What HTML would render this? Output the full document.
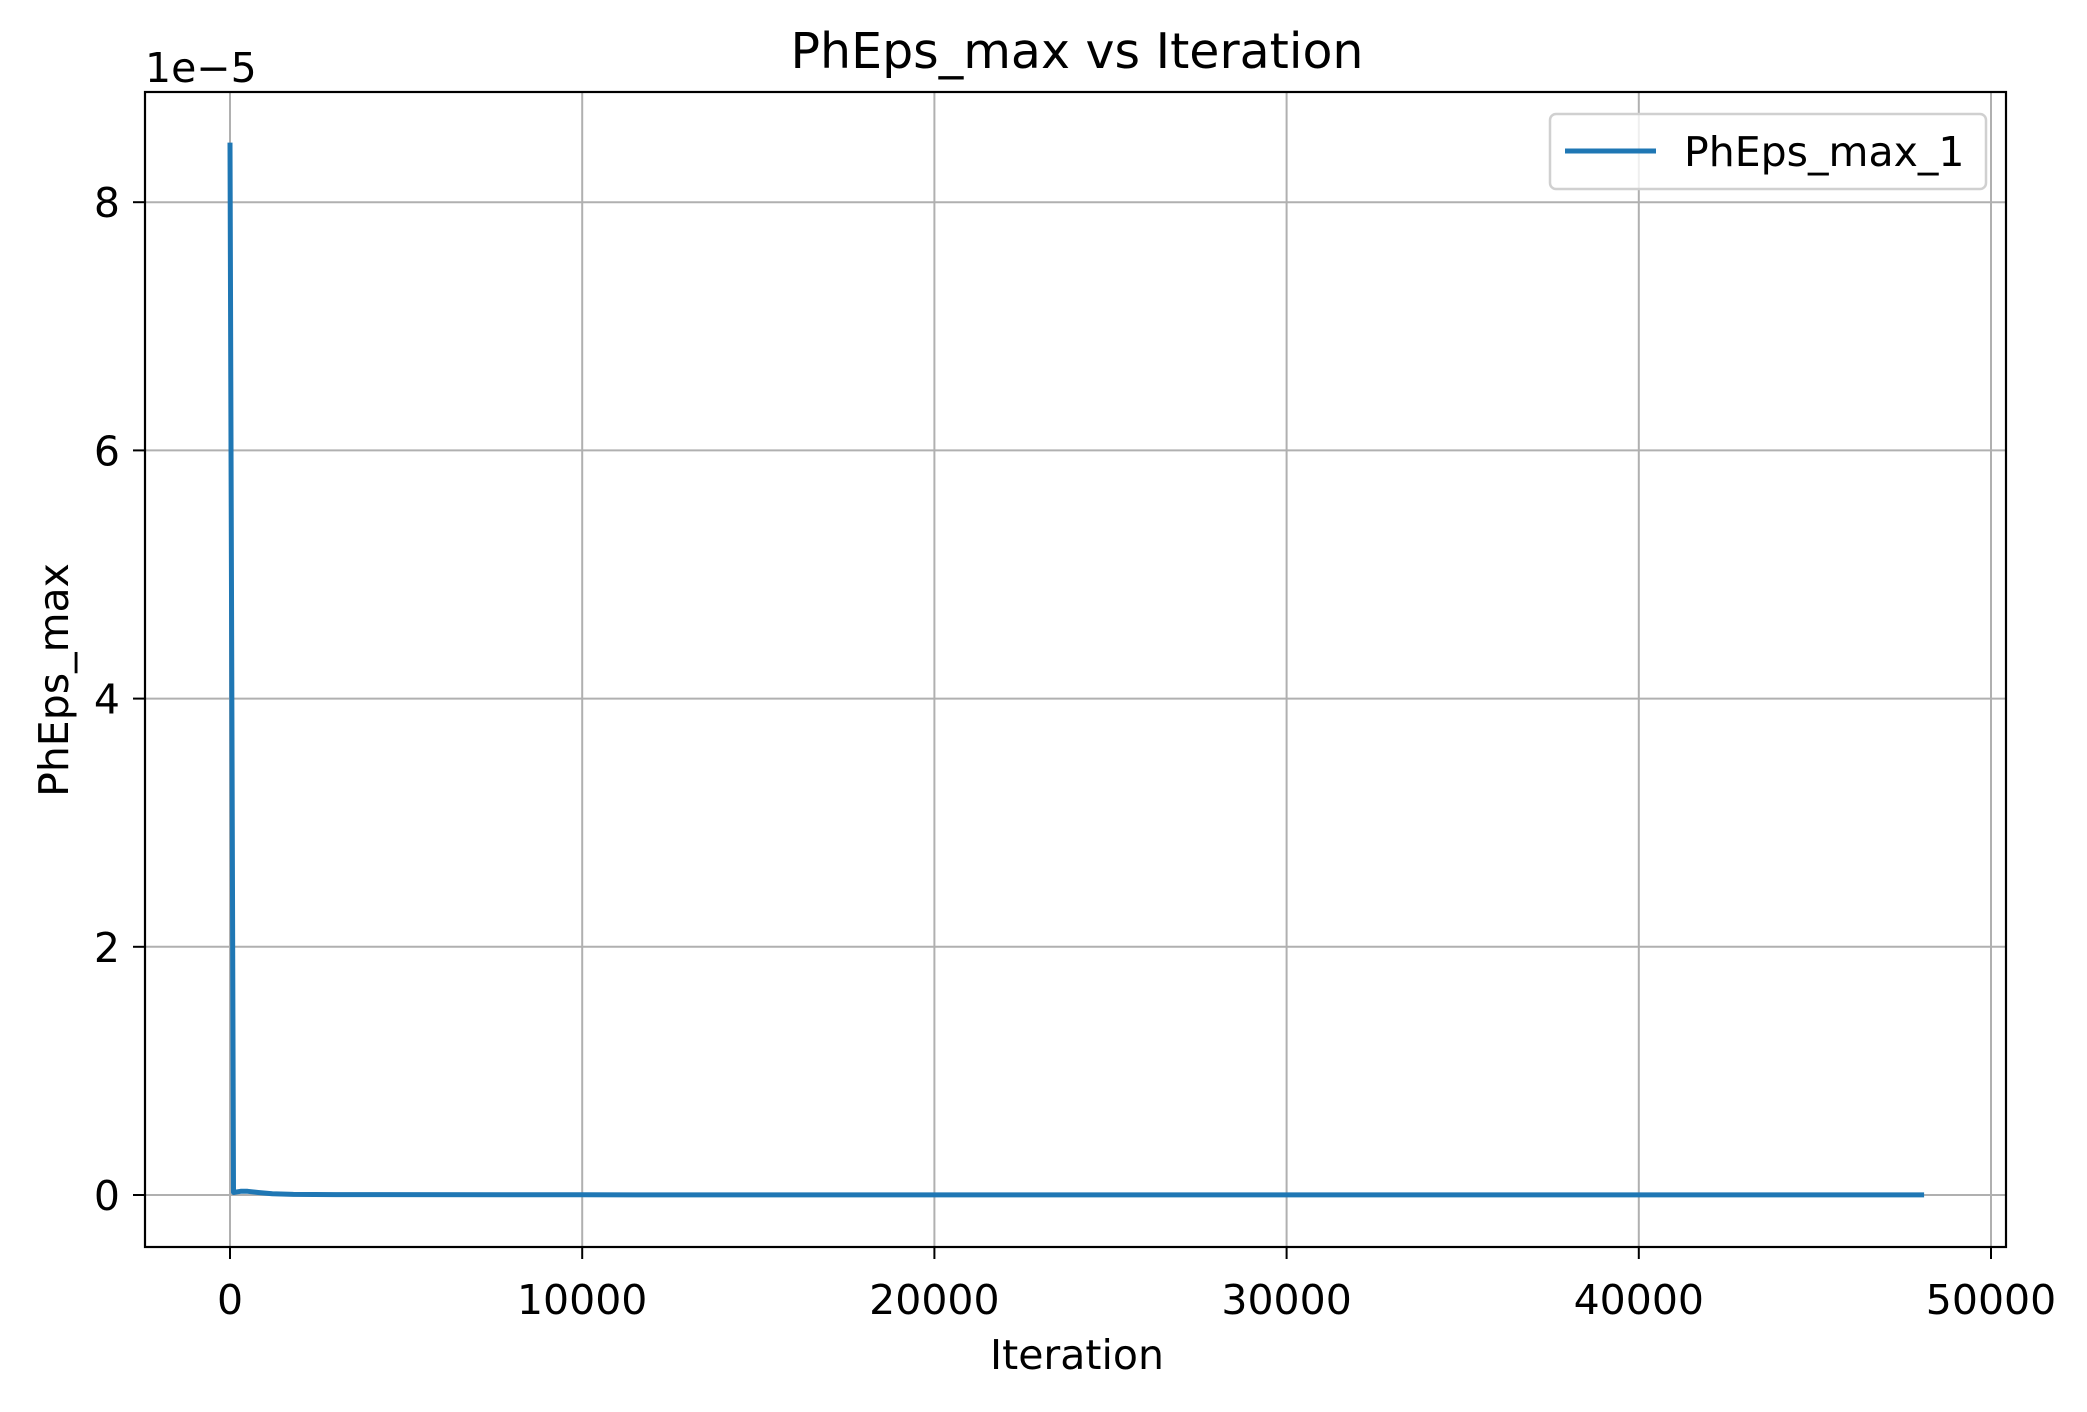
<!DOCTYPE html>
<html><head><meta charset="utf-8"><style>
body{margin:0;background:#fff;}
svg text{font-family:"DejaVu Sans","Liberation Sans",sans-serif;fill:#000;}
</style></head><body>
<svg id="chart" width="2087" height="1407" xmlns="http://www.w3.org/2000/svg">
<rect width="2087" height="1407" fill="#fff"/>
<g id="grid"></g>
<g id="ticks"></g>
<path id="series" fill="none" stroke="#1f77b4" stroke-width="5" stroke-linejoin="round"/>
<rect x="145" y="92" width="1861" height="1155" fill="none" stroke="#000" stroke-width="2.2"/>
<text x="1077" y="68" font-size="49" text-anchor="middle">PhEps_max vs Iteration</text>
<text x="1077" y="1369" font-size="41" text-anchor="middle">Iteration</text>
<text transform="translate(68,680) rotate(-90)" font-size="41" text-anchor="middle">PhEps_max</text>
<text x="145" y="82" font-size="41">1e−5</text>
<g>
<rect x="1550" y="114" width="436" height="75" rx="6" fill="#fff" fill-opacity="0.8" stroke="#d0d0d0" stroke-width="2.5"/>
<line x1="1565" y1="151" x2="1656" y2="151" stroke="#1f77b4" stroke-width="5"/>
<text x="1684" y="166" font-size="41">PhEps_max_1</text>
</g>
</svg>
<script>
const xTicks=[0,10000,20000,30000,40000,50000];
const yTicks=[0,2,4,6,8];
const iterations=[0,100,300,500,800,1200,1800,3000,10000,20000,30000,40000,48100];
const values=[8.48,0.02,0.03,0.03,0.02,0.01,0.005,0.003,0.002,0.001,0.001,0.001,0.001];
const X0=230,XS=352.2/10000,Y0=1195,YS=124.1;
function sx(v){return X0+v*XS;}
function sy(v){return Y0-v*YS;}
const ns="http://www.w3.org/2000/svg";
const grid=document.getElementById('grid'),ticks=document.getElementById('ticks');
function mk(tag,attrs,parent){const e=document.createElementNS(ns,tag);for(const k in attrs)e.setAttribute(k,attrs[k]);parent.appendChild(e);return e;}
xTicks.forEach(t=>{const x=sx(t);
const g=mk('line',{x1:x,x2:x,y1:92,y2:1247,stroke:'#b0b0b0','stroke-width':2},grid);


const tk=mk('line',{x1:x,x2:x,y1:1247,y2:1259,stroke:'#000','stroke-width':2},ticks);


const tx=mk('text',{x:x,y:1314,'font-size':41,'text-anchor':'middle'},ticks);
tx.textContent=t;


});
yTicks.forEach(t=>{const y=sy(t);
const g=mk('line',{x1:145,x2:2006,y1:y,y2:y,stroke:'#b0b0b0','stroke-width':2},grid);


const tk=mk('line',{x1:133,x2:145,y1:y,y2:y,stroke:'#000','stroke-width':2},ticks);


const tx=mk('text',{x:120,y:y+15,'font-size':41,'text-anchor':'end'},ticks);
tx.textContent=t;


});
document.getElementById('series').setAttribute('d',iterations.map((v,i)=>(i?'L':'M')+sx(v).toFixed(1)+' '+sy(values[i]).toFixed(1)).join(' '));
</script>
</body></html>
